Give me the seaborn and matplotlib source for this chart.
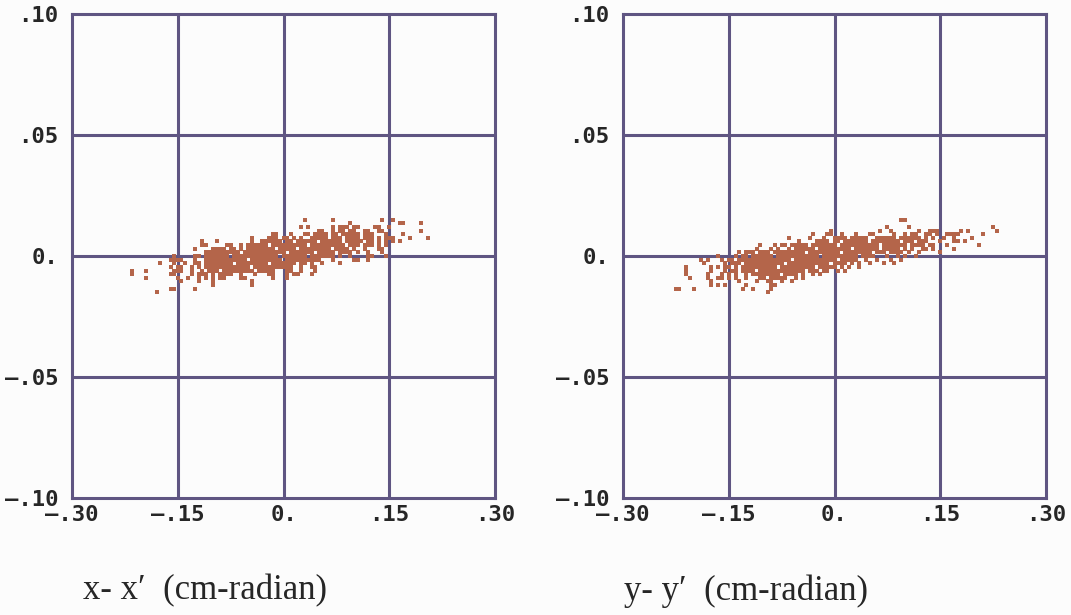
import matplotlib
matplotlib.use("Agg")
import matplotlib.pyplot as plt
import seaborn as sns
import pandas as pd

# phase-space particle cells (top row first)
# each row lists occupied grid columns; column c -> x = X0 + c*DX, row r -> y = Y0 - r*DY
X0, DX = -0.23, 0.005
Y0, DY = 0.015, 0.0015

xx_rows = [
    "52, 60, 74, 77",
    "65, 79, 80, 85",
    "51, 53, 60, 62-64, 66-67, 72-73, 76",
    "56-57, 60, 62-63, 65-66, 69-70, 73-74, 85",
    "43-44, 48, 52-53, 55-58, 60-61, 63-67, 69-71, 75, 80",
    "37, 42-44, 46-47, 49, 51, 54-58, 60-62, 64-67, 69-71, 73, 75-77, 82, 87",
    "23, 27, 37, 40-45, 47-48, 50-55, 57-62, 64-68, 70-71, 73, 75, 77, 79",
    "23-24, 30-31, 34, 36-41, 43-52, 54-63, 65-67, 69-71, 73, 75",
    "21, 26-29, 31-32, 34, 36-43, 45-49, 51-59, 61-64, 66, 69, 73-74",
    "24-33, 35-46, 48-54, 56-60, 62-65, 67, 70, 74",
    "15, 21-22, 24-30, 32-44, 46-52, 54-60, 62, 65, 70-71, 75",
    "14-17, 21, 24-35, 37-45, 47-56, 60, 66-67, 70",
    "11, 15, 18, 21-22, 24-31, 33-41, 43-49, 51-52, 54, 57, 62",
    "14, 16-17, 20, 22, 24-36, 38-48, 51, 54-55",
    "3, 7, 15-17, 20, 23, 25-27, 29-37, 39-43, 47-48, 51, 55",
    "3, 14-15, 20, 22-24, 26, 28-31, 34, 38, 42-43, 47, 49-50, 54",
    "7, 16, 19, 22, 24, 26, 28-29, 34-35, 43, 47",
    "17, 22, 26, 37",
    "26, 37",
    "14-15, 21",
    "10",
]

yy_rows = [
    "65-66",
    "",
    "61, 67, 91",
    "45, 59, 62, 70, 73-75, 82, 84, 92",
    "40, 44-45, 48, 52, 56-57, 63, 66, 68-69, 72-73, 75, 78-81, 88",
    "33, 39, 43, 46-49, 51-55, 58-63, 65-70, 72, 74, 77, 80, 85",
    "36, 41-44, 46-47, 49-55, 57-64, 66-68, 70-72, 76, 80-81, 83",
    "25, 29, 31-32, 34-38, 40-46, 48-58, 60-66, 68-71, 73-74, 78, 87",
    "24, 28, 30, 33, 35-40, 42-50, 52-58, 60-64, 66, 68, 71-72, 74, 80",
    "19, 21-23, 25-27, 29-37, 39-47, 49-56, 58-60, 62-65, 67, 70, 76",
    "13, 18, 20-21, 23-28, 30-41, 43-52, 54-57, 61, 64, 66, 69",
    "8, 10, 14, 16-17, 19-33, 35-46, 48-52, 55, 58, 62, 65",
    "9, 15, 17-19, 21-31, 33-44, 46-49, 51, 53, 56, 60, 63",
    "4, 11, 13, 15-16, 18, 20-29, 31-40, 42-46, 48, 50, 53",
    "4, 11, 15, 17-18, 20-23, 25-37, 39-41, 43-44, 47, 49",
    "4, 10, 14, 16, 18, 21, 23-30, 32-35, 37, 40, 42",
    "5, 10, 13-14, 16, 18, 21, 25-26, 28-32, 35, 37",
    "11, 19, 24, 27-28, 31, 34",
    "11, 13, 15, 21, 28-29",
    "1-2, 6, 20, 23, 28",
    "27",
]

xticks = [-0.30, -0.15, 0.0, 0.15, 0.30]
xtick_labels = ["\u2013.30", "\u2013.15", "0.", ".15", ".30"]
yticks = [-0.10, -0.05, 0.0, 0.05, 0.10]
ytick_labels = ["\u2013.10", "\u2013.05", "0.", ".05", ".10"]
titles = ["x- x\u2032  (cm-radian)", "y- y\u2032  (cm-radian)"]


def rows_to_df(rows):
    xs, ys = [], []
    for r, line in enumerate(rows):
        for part in line.split(","):
            part = part.strip()
            if not part:
                continue
            if "-" in part:
                a, b = part.split("-")
                cols = range(int(a), int(b) + 1)
            else:
                cols = [int(part)]
            for c in cols:
                xs.append(X0 + c * DX)
                ys.append(Y0 - r * DY)
    return pd.DataFrame({"x": xs, "y": ys})


sns.set_style("white")
bg = "#fcfcfc"
frame = "#5f5582"
dots = "#b4654a"

fig = plt.figure(figsize=(10.71, 6.15), dpi=100, facecolor=bg)
boxes = [[72 / 1071, 117 / 615, 423 / 1071, 484 / 615],
         [623 / 1071, 117 / 615, 423 / 1071, 484 / 615]]
label_x = [205 / 1071, 746 / 1071]

for box, rows, title, lx in zip(boxes, [xx_rows, yy_rows], titles, label_x):
    ax = fig.add_axes(box)
    ax.set_facecolor(bg)
    df = rows_to_df(rows)
    sns.scatterplot(data=df, x="x", y="y", marker="s", s=10, color=dots,
                    linewidth=0, ax=ax, zorder=3)
    for v in [-0.15, 0.0, 0.15]:
        ax.axvline(v, color=frame, lw=2.2, zorder=2)
    for v in [-0.05, 0.0, 0.05]:
        ax.axhline(v, color=frame, lw=2.2, zorder=2)
    ax.set_xlim(-0.30, 0.30)
    ax.set_ylim(-0.10, 0.10)
    ax.set_xticks(xticks)
    ax.set_xticklabels(xtick_labels)
    ax.set_yticks(yticks)
    ax.set_yticklabels(ytick_labels)
    ax.tick_params(length=0, labelsize=16, pad=5)
    ax.tick_params(axis="y", pad=10)
    for t in ax.get_xticklabels() + ax.get_yticklabels():
        t.set_family("DejaVu Sans Mono")
        t.set_weight("bold")
    for s in ax.spines.values():
        s.set_color(frame)
        s.set_linewidth(2.2)
        s.set_visible(True)
    ax.set_xlabel("")
    ax.set_ylabel("")
    fig.text(lx, 24 / 615, title, ha="center", va="center", fontsize=25,
             family=["Liberation Serif", "DejaVu Serif"])

fig.savefig("out.png", dpi=100, facecolor=bg)
